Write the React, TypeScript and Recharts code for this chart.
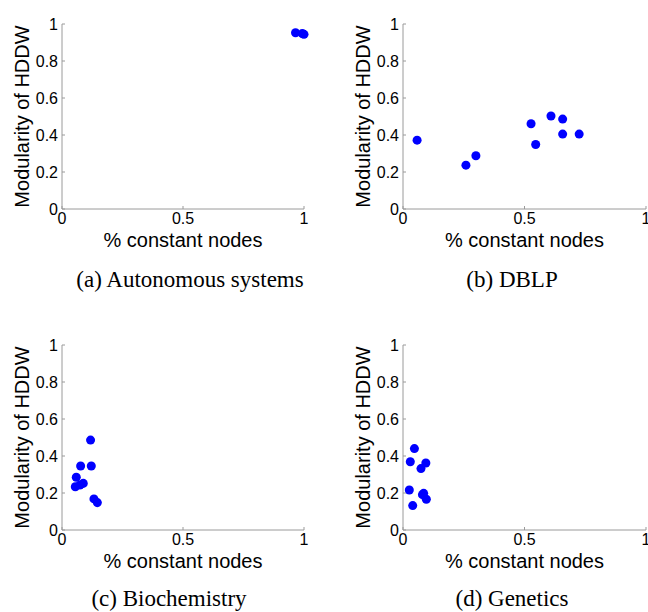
import React from "react";
import { ScatterChart, Scatter, XAxis, YAxis, ZAxis, Label } from "recharts";

// % constant nodes (x) and modularity of HDDW (y), one pair of arrays per panel
const asX = [0.965, 0.993, 1.0];
const asY = [0.953, 0.948, 0.944];

const dblpX = [0.058, 0.259, 0.3, 0.527, 0.546, 0.609, 0.657, 0.657, 0.725];
const dblpY = [0.372, 0.237, 0.288, 0.461, 0.349, 0.503, 0.486, 0.405, 0.405];

const bioX = [0.118, 0.077, 0.121, 0.059, 0.055, 0.074, 0.088, 0.132, 0.146];
const bioY = [0.486, 0.346, 0.346, 0.285, 0.234, 0.243, 0.252, 0.168, 0.148];

const genX = [0.047, 0.03, 0.094, 0.074, 0.026, 0.08, 0.085, 0.096, 0.04];
const genY = [0.44, 0.369, 0.362, 0.332, 0.216, 0.191, 0.198, 0.166, 0.132];

const xTicks = [0, 0.5, 1];
const yTicks = [0, 0.2, 0.4, 0.6, 0.8, 1];

const xTitle = "% constant nodes";
const yTitle = "Modularity of HDDW";

const sans = "'Liberation Sans', Arial, Helvetica, sans-serif";
const serif = "'Liberation Serif', 'Times New Roman', serif";
const axisGray = "#9a9a9a";

const zip = (xs: number[], ys: number[]) => xs.map((x, i) => ({ x, y: ys[i] }));

type PanelProps = {
  left: number;
  top: number;
  yAxisWidth: number;
  rightPad: number;
  xs: number[];
  ys: number[];
  caption: string;
  captionX: number;
  captionY: number;
};

function Panel({ left, top, yAxisWidth, rightPad, xs, ys, caption, captionX, captionY }: PanelProps) {
  const tickStyle = { fontFamily: sans, fontSize: 16, fill: "#000" };
  return (
    <>
      <div style={{ position: "absolute", left, top }}>
        <ScatterChart
          width={324}
          height={262}
          margin={{ top: 25, right: rightPad, bottom: 0, left: 0 }}
        >
          <XAxis
            type="number"
            dataKey="x"
            domain={[0, 1]}
            ticks={xTicks}
            tickFormatter={(v) => String(v)}
            height={52}
            tickSize={-3}
            tickMargin={7}
            axisLine={{ stroke: axisGray }}
            tickLine={{ stroke: axisGray }}
            tick={tickStyle}
            interval={0}
          >
            <Label
              content={({ viewBox }: any) => (
                <text
                  x={viewBox.x + viewBox.width / 2}
                  y={viewBox.y + 31}
                  textAnchor="middle"
                  dominantBaseline="central"
                  fontFamily={sans}
                  fontSize={20}
                  fill="#000"
                >
                  {xTitle}
                </text>
              )}
            />
          </XAxis>
          <YAxis
            type="number"
            dataKey="y"
            domain={[0, 1]}
            ticks={yTicks}
            tickFormatter={(v) => String(v)}
            width={yAxisWidth}
            tickSize={-3}
            tickMargin={7}
            axisLine={{ stroke: axisGray }}
            tickLine={{ stroke: axisGray }}
            tick={tickStyle}
            interval={0}
          >
            <Label
              content={({ viewBox }: any) => {
                const cx = viewBox.x + viewBox.width - 40;
                const cy = viewBox.y + viewBox.height / 2;
                return (
                  <text
                    x={cx}
                    y={cy}
                    transform={`rotate(-90 ${cx} ${cy})`}
                    textAnchor="middle"
                    dominantBaseline="central"
                    fontFamily={sans}
                    fontSize={20}
                    fill="#000"
                  >
                    {yTitle}
                  </text>
                );
              }}
            />
          </YAxis>
          <ZAxis range={[46, 46]} />
          <Scatter data={zip(xs, ys)} fill="#0000ff" shape="circle" isAnimationActive={false} />
        </ScatterChart>
      </div>
      <div
        style={{
          position: "absolute",
          left: captionX,
          top: captionY,
          transform: "translate(-50%, -50%)",
          fontFamily: serif,
          fontSize: 23,
          lineHeight: "24px",
          whiteSpace: "nowrap",
          color: "#000",
        }}
      >
        {caption}
      </div>
    </>
  );
}

export default function App() {
  return (
    <div
      style={{
        position: "absolute",
        left: 0,
        top: 0,
        width: 648,
        height: 612,
        background: "#fff",
        overflow: "hidden",
      }}
    >
      <Panel left={0} top={-1} yAxisWidth={62} rightPad={20} xs={asX} ys={asY}
        caption="(a) Autonomous systems" captionX={190} captionY={280} />
      <Panel left={324} top={-1} yAxisWidth={79} rightPad={2} xs={dblpX} ys={dblpY}
        caption="(b) DBLP" captionX={512} captionY={280} />
      <Panel left={0} top={320} yAxisWidth={62} rightPad={20} xs={bioX} ys={bioY}
        caption="(c) Biochemistry" captionX={169} captionY={599} />
      <Panel left={324} top={320} yAxisWidth={79} rightPad={2} xs={genX} ys={genY}
        caption="(d) Genetics" captionX={512} captionY={599} />
    </div>
  );
}
